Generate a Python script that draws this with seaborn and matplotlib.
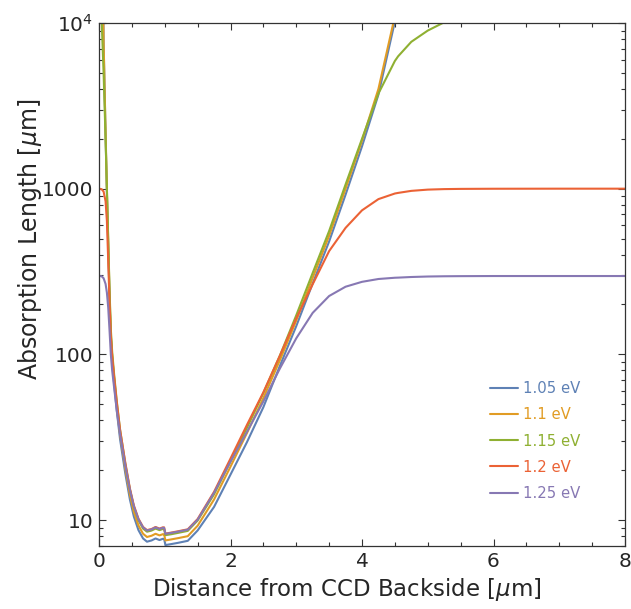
import matplotlib.pyplot as plt
import numpy as np
import pandas as pd
import seaborn as sns
from matplotlib.ticker import FixedLocator, MultipleLocator, LogLocator, NullFormatter

# distance from CCD backside [um]
x_um = [0, 0.04, 0.07, 0.10, 0.12, 0.14, 0.16, 0.18, 0.20, 0.23, 0.27, 0.32, 0.40, 0.47,
        0.53, 0.60, 0.67, 0.73, 0.80, 0.86, 0.92, 0.97, 0.99, 1.01, 1.10, 1.20, 1.35, 1.50,
        1.75, 2.00, 2.25, 2.50, 2.75, 3.00, 3.25, 3.50, 3.75, 4.00, 4.25, 4.50, 4.55, 4.75,
        5.00, 5.25, 5.50, 6.00, 7.00, 8.00]

# absorption length [um] for each photon energy
L_105 = [1e6, 111000, 7710, 2100, 951, 453, 220, 125, 91.5, 66.6, 45.8, 30.8, 19.1, 13.3,
         10.5, 8.69, 7.74, 7.40, 7.53, 7.74, 7.57, 7.70, 7.70, 7.06, 7.16, 7.28, 7.49, 8.65,
         12.0, 18.8, 29.5, 48, 85, 148, 268, 480, 920, 1800, 3700, 10200, 12800, 28000,
         80000, 2e5, 4e5, 8e5, 1e6, 1e6]
L_110 = [1e5, 57100, 7660, 2200, 1005, 481, 235, 133, 97.7, 71.0, 48.8, 32.9, 20.4, 14.2,
         11.2, 9.28, 8.26, 7.90, 8.04, 8.26, 8.08, 8.21, 8.21, 7.53, 7.64, 7.77, 7.99, 9.24,
         13.3, 21, 33.5, 54.5, 92, 160, 290, 520, 1000, 1950, 4000, 11000, 13500, 30000,
         60000, 85000, 95000, 1e5, 1e5, 1e5]
L_115 = [11300, 10470, 4985, 1990, 996, 497, 248, 141.5, 104, 75.9, 52.3, 35.2, 21.9, 15.3,
         12.0, 9.98, 8.88, 8.50, 8.64, 8.88, 8.69, 8.83, 8.83, 8.10, 8.21, 8.36, 8.60, 9.93,
         14.3, 22.6, 36, 58.5, 98, 172, 310, 555, 1060, 2000, 3750, 5900, 6300, 7700,
         9000, 10100, 10700, 11150, 11300, 11300]
L_120 = [1000, 993, 960, 840, 640, 370, 207, 128.8, 97.8, 73.0, 51.4, 35.1, 22.2, 15.5,
         12.26, 10.19, 9.08, 8.69, 8.83, 9.08, 8.88, 9.03, 9.03, 8.28, 8.40, 8.55, 8.79, 10.14,
         14.8, 23.5, 37.5, 59, 98, 165, 265, 420, 580, 740, 865, 935, 943, 970,
         987, 994, 997, 999, 1000, 1000]
L_125 = [297, 296, 288, 266, 236, 192, 140, 99.7, 80, 63, 46, 33, 21.3, 15.2,
         12.1, 10.1, 9.02, 8.64, 8.78, 9.02, 8.83, 8.97, 8.97, 8.25, 8.36, 8.50, 8.74, 10.05,
         14.6, 22.5, 34, 52, 82, 125, 178, 225, 256, 274, 285, 290, 290.5, 293,
         295, 296, 296.5, 297, 297, 297]

energies = ["1.05 eV", "1.1 eV", "1.15 eV", "1.2 eV", "1.25 eV"]
colors = ["#5E81B5", "#E19C24", "#8FB032", "#EB6235", "#8778B3"]

df = pd.concat([pd.DataFrame({"x": x_um, "L": vals, "energy": e})
                for e, vals in zip(energies, [L_105, L_110, L_115, L_120, L_125])])

sns.set_style("ticks")
plt.rcParams['font.family'] = ['DejaVu Sans']

fig = plt.figure(figsize=(6.31, 6.09), dpi=100)
ax = fig.add_axes([99/631, 1-546/609, 526/631, 523/609])

sns.lineplot(data=df, x="x", y="L", hue="energy", hue_order=energies, palette=colors,
             estimator=None, sort=False, lw=1.5, ax=ax, legend=False)

ax.set_yscale("log")
ax.set_xlim(0, 8)
ax.set_ylim(6.97, 1e4)

ax.xaxis.set_major_locator(FixedLocator([0, 2, 4, 6, 8]))
ax.xaxis.set_minor_locator(MultipleLocator(0.5))
ax.set_xticklabels(["0", "2", "4", "6", "8"])
ax.yaxis.set_major_locator(FixedLocator([10, 100, 1000, 10000]))
ax.yaxis.set_minor_locator(LogLocator(base=10, subs=np.arange(2, 10)))
ax.yaxis.set_minor_formatter(NullFormatter())
ax.set_yticklabels(["10", "100", "1000", "$10^4$"])

ax.tick_params(which="both", direction="in", top=True, right=True, width=0.8,
               color="#333333", labelsize=14.5, pad=4)
ax.tick_params(which="major", length=5)
ax.tick_params(which="minor", length=2.7)
for s in ax.spines.values():
    s.set_linewidth(0.9)
    s.set_color("#333333")

ax.set_xlabel(r"Distance from CCD Backside [$\mu$m]", fontsize=16.5)
ax.set_ylabel(r"Absorption Length [$\mu$m]", fontsize=17)
ax.xaxis.set_label_coords(0.471, -0.058)
ax.yaxis.set_label_coords(-0.105, 0.587)

handles = ax.get_lines()[:5]
ax.legend(handles, energies, frameon=False, labelcolor="linecolor", fontsize=10.7,
          handlelength=1.9, handletextpad=0.3, labelspacing=0.75, borderaxespad=0,
          loc="lower right", bbox_to_anchor=(0.926, 0.075))

fig.savefig("out.png", dpi=100)
